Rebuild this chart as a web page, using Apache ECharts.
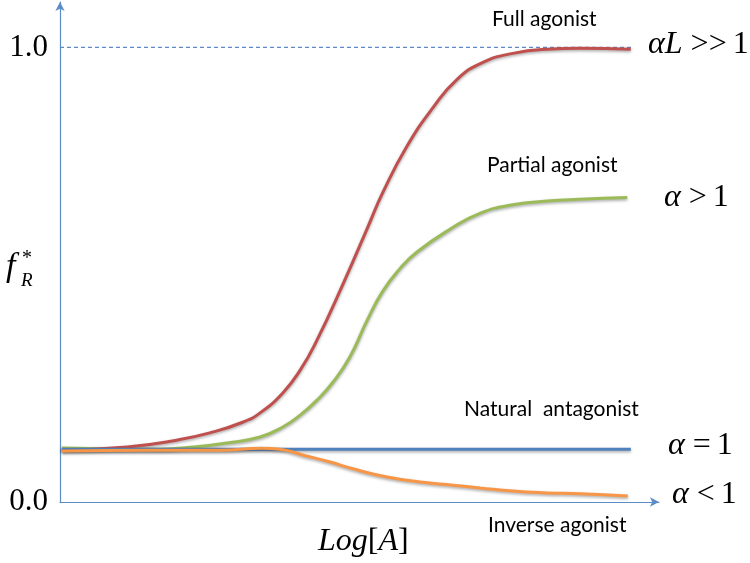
<!DOCTYPE html>
<html>
<head>
<meta charset="utf-8">
<script src="https://cdn.jsdelivr.net/npm/echarts@6/dist/echarts.min.js"></script>
<style>html,body{margin:0;padding:0;background:#fff}#c{width:750px;height:563px}</style>
</head>
<body>
<div id="c"></div>
<script>
// Log[A] positions (arbitrary units) and f_R* values
const fullX   = [0.3, 11.2, 19.5, 25.0, 30.6, 33.4, 37.2, 40.1, 42.9, 47.3, 51.3, 53.9, 57.9, 62.3, 66.3, 70.6, 75.6, 81.3, 86.8, 95.3];
const fullY   = [0.114, 0.121, 0.136, 0.152, 0.176, 0.196, 0.240, 0.290, 0.356, 0.481, 0.602, 0.681, 0.782, 0.868, 0.930, 0.967, 0.987, 0.996, 0.998, 0.996];
const partX   = [0.3, 16.7, 22.2, 27.9, 33.4, 37.2, 40.1, 42.9, 45.6, 48.4, 51.3, 53.9, 56.8, 59.6, 65.1, 70.1, 75.6, 81.3, 86.8, 94.7];
const partY   = [0.119, 0.116, 0.121, 0.130, 0.143, 0.165, 0.191, 0.224, 0.264, 0.319, 0.400, 0.464, 0.514, 0.550, 0.600, 0.635, 0.654, 0.662, 0.666, 0.670];
const neutX   = [0.3, 95.3];
const neutY   = [0.116, 0.116];
const invX    = [0.3, 15.0, 26.7, 33.7, 36.7, 40.6, 45.1, 48.9, 54.6, 60.1, 65.6, 70.1, 75.6, 81.3, 86.8, 94.8];
const invY    = [0.112, 0.114, 0.114, 0.118, 0.116, 0.103, 0.088, 0.073, 0.055, 0.044, 0.037, 0.031, 0.024, 0.020, 0.018, 0.013];
const refX    = [0, 95.5];
const refY    = [1.0, 1.0];
const yTicks  = [0, 1];

const zip = (xs, ys) => xs.map((x, i) => [x, ys[i]]);
const axisBlue = '#5b8cc8';
const shadow = {shadowBlur: 3, shadowColor: 'rgba(0,0,0,0.35)', shadowOffsetY: 1.5};
const serifI = 'italic 32px Liberation Serif';
const serifN = '32px Liberation Serif';
const calib = '21px Lato';
const rich = {
  i: {font: serifI, fill: '#000'},
  n: {font: serifN, fill: '#000'},
  op: {font: serifN, fill: '#000', padding: [0, 6, 0, 8]}
};

const chart = echarts.init(document.getElementById('c'));
chart.setOption({
  animation: false,
  backgroundColor: '#fff',
  grid: {left: 60, right: 91, top: 2, bottom: 61, containLabel: false},
  xAxis: {
    type: 'value', min: 0, max: 100,
    axisLine: {show: true, lineStyle: {color: axisBlue, width: 1.2}, symbol: ['none', 'arrow'], symbolSize: [7, 9]},
    axisTick: {show: false}, axisLabel: {show: false}, splitLine: {show: false}
  },
  yAxis: {
    type: 'value', min: 0, max: 1.1, interval: 1,
    axisLine: {show: true, lineStyle: {color: axisBlue, width: 1.2}, symbol: ['none', 'arrow'], symbolSize: [7, 9]},
    axisTick: {show: false}, splitLine: {show: false},
    axisLabel: {
      margin: 12, color: '#000', fontFamily: 'Liberation Serif', fontSize: 31,
      formatter: v => yTicks.indexOf(v) >= 0 ? v.toFixed(1) : ''
    }
  },
  series: [
    {type: 'line', data: zip(refX, refY), symbol: 'none', silent: true,
     lineStyle: {color: '#5b8cc8', width: 1.2, type: [4, 3]}},
    {type: 'line', data: zip(partX, partY), symbol: 'none', smooth: 0.5,
     lineStyle: Object.assign({color: '#9bbb59', width: 3}, shadow)},
    {type: 'line', data: zip(fullX, fullY), symbol: 'none', smooth: 0.5,
     lineStyle: Object.assign({color: '#c0504d', width: 3}, shadow)},
    {type: 'line', data: zip(neutX, neutY), symbol: 'none',
     lineStyle: Object.assign({color: '#4f81bd', width: 3}, shadow)},
    {type: 'line', data: zip(invX, invY), symbol: 'none', smooth: 0.5,
     lineStyle: Object.assign({color: '#f79646', width: 3}, shadow)}
  ],
  graphic: [
    {type: 'text', left: 492, top: 9, style: {text: 'Full agonist', font: calib, fill: '#000'}},
    {type: 'text', left: 487, top: 155, style: {text: 'Partial agonist', font: calib, fill: '#000'}},
    {type: 'text', left: 464, top: 399, style: {text: 'Natural  antagonist', font: calib, fill: '#000'}},
    {type: 'text', left: 488, top: 515, style: {text: 'Inverse agonist', font: calib, fill: '#000'}},
    {type: 'text', left: 648, top: 29, style: {text: '{i|αL}{op|>>}{n|1}', rich: rich}},
    {type: 'text', left: 664, top: 182, style: {text: '{i|α}{op|>}{n|1}', rich: rich}},
    {type: 'text', left: 668, top: 430, style: {text: '{i|α}{op|=}{n|1}', rich: rich}},
    {type: 'text', left: 672, top: 479, style: {text: '{i|α}{op|<}{n|1}', rich: rich}},
    {type: 'text', left: 318, top: 526, style: {text: '{i|Log}{n|[}{i|A}{n|]}', rich: rich}},
    {type: 'text', left: 6, top: 250, style: {text: 'f', font: 'italic 34px Liberation Serif', fill: '#000'}},
    {type: 'text', left: 22, top: 249, style: {text: '*', font: '20px Liberation Serif', fill: '#000'}},
    {type: 'text', left: 21, top: 271, style: {text: 'R', font: 'italic 19px Liberation Serif', fill: '#000'}}
  ]
});
</script>
</body>
</html>
